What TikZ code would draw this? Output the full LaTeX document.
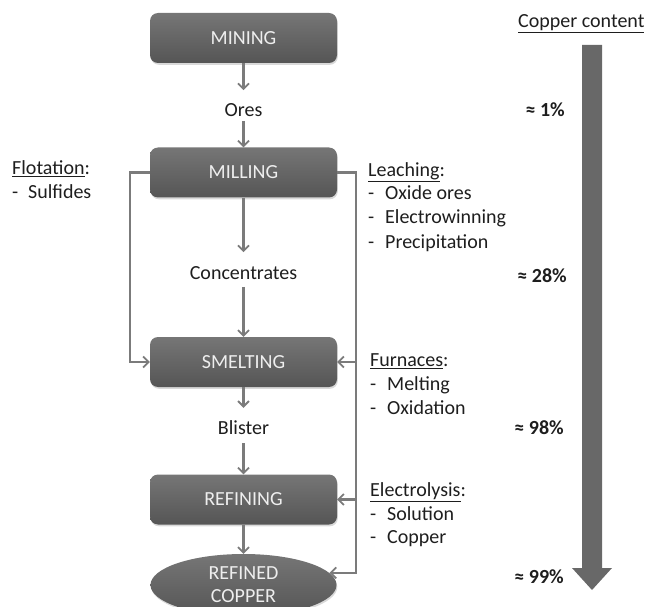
\documentclass[tikz,border=0pt]{standalone}
\usepackage{fontspec}
\setmainfont{Carlito}
\usetikzlibrary{arrows.meta,shapes.geometric,shadows,calc}
\definecolor{boxtop}{HTML}{767676}
\definecolor{boxbot}{HTML}{555555}
\definecolor{linegray}{HTML}{7B7B7B}
\definecolor{bigarr}{HTML}{686868}
\definecolor{txtcol}{HTML}{1E1E1E}
\definecolor{boxtxt}{HTML}{EEEEEE}
\begin{document}
\begin{tikzpicture}[x=1pt,y=-1pt,
  txt/.style={font=\fontsize{20}{24}\selectfont, inner sep=0pt, text=txtcol},
  side/.style={txt, anchor=base west},
  pct/.style={txt, font=\fontsize{20}{24}\selectfont\bfseries, anchor=base east},
  box/.style={rectangle, rounded corners=8pt, minimum width=187pt, minimum height=50pt,
    top color=boxtop, bottom color=boxbot, draw=none, text=boxtxt,
    font=\fontsize{20}{24}\selectfont,
    drop shadow={opacity=0.3,shadow xshift=0.8pt,shadow yshift=-1.8pt}},
  arr/.style={draw=linegray, line width=2.3pt, -{Straight Barb[length=5.5pt,width=11pt,line width=1.8pt]}},
  ln/.style={draw=linegray, line width=2.3pt}
]
\useasboundingbox (0,0) rectangle (646,607);

% process boxes
\node[box] (mining) at (243.5,38) {MINING};
\node[box] (milling) at (243.5,172.5) {MILLING};
\node[box] (smelting) at (243.5,362) {SMELTING};
\node[box] (refining) at (243.5,499.5) {REFINING};
\node[box, ellipse, minimum width=186pt, minimum height=62pt, inner sep=2pt, align=center] (refined) at (243.5,585) {REFINED\\[-1pt]COPPER};

% intermediate products
\node[txt] (ores) at (243.5,110) {Ores};
\node[txt] (conc) at (243.5,273) {Concentrates};
\node[txt] (blister) at (243.5,428) {Blister};

% main flow
\draw[arr, shorten >=13pt] (mining) -- (ores);
\draw[arr, shorten <=4pt] (ores) -- (milling);
\draw[arr, shorten >=14pt] (milling) -- (conc);
\draw[arr, shorten <=7pt] (conc) -- (smelting);
\draw[arr, shorten >=13pt] (smelting) -- (blister);
\draw[arr, shorten <=8pt] (blister) -- (refining);
\draw[arr] (refining) -- (refined);

% side routes
\coordinate (lc) at (130,172.5);
\coordinate (rc) at (356,172.5);
\draw[arr] (milling.west) -- (lc) |- (smelting.west);
\draw[arr] (milling.east) -- (rc) |- (refined.8);
\draw[arr] (smelting.east -| rc) -- (smelting.east);
\draw[arr] (refining.east -| rc) -- (refining.east);

% left notes
\node[side] (flo) at (12,174.5) {\underline{Flotation}:};
\node[side] (flo1) at (12,198.5) {\makebox[16pt][l]{-}Sulfides};

% right notes
\node[side] (lea) at (368,176.5) {\underline{Leaching}:};
\node[side] (lea1) at (368,200) {\makebox[17pt][l]{-}Oxide ores};
\node[side] (lea2) at (368,224) {\makebox[17pt][l]{-}Electrowinning};
\node[side] (lea3) at (368,248) {\makebox[17pt][l]{-}Precipitation};

\node[side] (fur) at (370,366.5) {\underline{Furnaces}:};
\node[side] (fur1) at (370,390) {\makebox[17pt][l]{-}Melting};
\node[side] (fur2) at (370,414) {\makebox[17pt][l]{-}Oxidation};

\node[side] (ele) at (370,496.5) {\underline{Electrolysis}:};
\node[side] (ele1) at (370,520) {\makebox[17pt][l]{-}Solution};
\node[side] (ele2) at (370,543.5) {\makebox[17pt][l]{-}Copper};

% copper content
\node[side] (cc) at (518,28) {\underline{Copper content}};
\node[pct] (p1) at (565,116.5) {≈ 1\%};
\node[pct] (p2) at (567,282.5) {≈ 28\%};
\node[pct] (p3) at (564,434.5) {≈ 98\%};
\node[pct] (p4) at (564,583.5) {≈ 99\%};

\fill[bigarr] (582,45) -- (602,45) -- (602,568) -- (612,568) -- (592,590)
  -- (572,568) -- (582,568) -- cycle;
\end{tikzpicture}
\end{document}
